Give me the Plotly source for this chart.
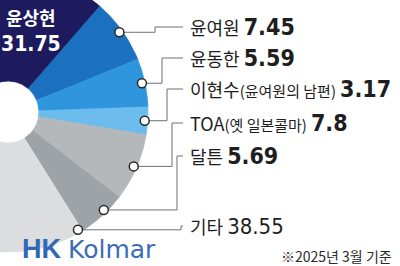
import numpy as np
import plotly.graph_objects as go

# ---------------- data ----------------
holders = ["윤상현", "윤여원", "윤동한", "이현수", "TOA", "달튼", "기타"]
shares = [31.75, 7.45, 5.59, 3.17, 7.8, 5.69, 38.55]
label_names = ["윤여원", "윤동한", "이현수", "TOA", "달튼", "기타"]
label_notes = ["", "", "(윤여원의 남편)", "(옛 일본콜마)", "", ""]
footnote = "※2025년 3월 기준"
brand = ["HK", "Kolmar"]

# ---------------- style / layout ----------------
colors = ["#1d1a5e", "#1c70c0", "#2f95dc", "#6cbcee", "#b5b8bb", "#9ea3a8", "#dcdddf"]
CX, CY, R, R0 = 8, 112, 140, 31          # pie centre / radii in pixels
FIRST_END = 49                            # angle where first slice ends (deg, ccw from east)
label_y = [27, 58, 89, 123, 156, 226]
elbow_x = [155, 162, 167, 172, 177, 181]
marker_frac = [0.5, 0.5, 0.5, 0.5, 0.4, 0.01]
LABEL_X = 188
KFONT = "Noto Sans CJK KR"
NFONT = "Liberation Sans Narrow, DejaVu Sans Condensed, Liberation Sans"

fig = go.Figure()

deg = [s * 3.6 for s in shares]
start0 = FIRST_END + deg[0]
starts, ends = [], []
a = start0
for d in deg:
    starts.append(a)
    ends.append(a - d)
    a -= d

for i in range(len(holders)):
    th = np.radians(np.linspace(starts[i], ends[i], 160))
    xo = CX + R * np.cos(th)
    yo = CY - R * np.sin(th)
    xi = CX + R0 * np.cos(th[::-1])
    yi = CY - R0 * np.sin(th[::-1])
    xs = np.concatenate([xo, xi, xo[:1]])
    ys = np.concatenate([yo, yi, yo[:1]])
    fig.add_trace(go.Scatter(x=xs, y=ys, mode="lines", fill="toself",
                             fillcolor=colors[i],
                             line=dict(color=colors[i], width=0.8),
                             hoverinfo="skip", showlegend=False))

# leader lines and markers
mx, my = [], []
for j in range(len(label_names)):
    i = j + 1
    ang = np.radians(starts[i] + marker_frac[j] * (ends[i] - starts[i]))
    px = CX + (R - 3) * np.cos(ang)
    py = CY - (R - 3) * np.sin(ang)
    mx.append(px)
    my.append(py)
    fig.add_trace(go.Scatter(x=[LABEL_X - 5, elbow_x[j], elbow_x[j], px],
                             y=[label_y[j], label_y[j], py, py],
                             mode="lines", line=dict(color="#6f6f6f", width=1),
                             hoverinfo="skip", showlegend=False))
fig.add_trace(go.Scatter(x=mx, y=my, mode="markers",
                         marker=dict(size=9, color="white",
                                     line=dict(color="#2a2a2a", width=1.5)),
                         hoverinfo="skip", showlegend=False))

annotations = []
# label of the largest slice (inside)
annotations.append(dict(x=31, y=17, text="<b>" + holders[0] + "</b>",
                        font=dict(family=KFONT, size=18, color="white")))
annotations.append(dict(x=31, y=44, text="<b>" + f"{shares[0]:.2f}" + "</b>",
                        font=dict(family=NFONT, size=21, color="white")))

for j, name in enumerate(label_names):
    val = shares[j + 1]
    vtxt = f"{val:g}"
    note = label_notes[j]
    txt = name
    if note:
        txt += f"<span style=\"font-size:15px\">{note}</span>"
    if j < 5:
        txt += f" <b><span style=\"font-family:{NFONT};font-size:23px\">{vtxt}</span></b>"
    else:
        txt += f" <span style=\"font-family:{NFONT};font-size:22px\">{vtxt}</span>"
    annotations.append(dict(x=LABEL_X, y=label_y[j], text=txt, xanchor="left",
                            font=dict(family=KFONT, size=18, color="#1e1e1e")))

annotations.append(dict(x=394, y=256, text=footnote, xanchor="right",
                        font=dict(family=KFONT, size=14, color="#2a2a2a")))
annotations.append(dict(x=20, y=266, text="<b>" + brand[0] + "</b>", xanchor="left",
                        yanchor="bottom",
                        font=dict(family="Liberation Sans", size=27, color="#2f68b3")))
annotations.append(dict(x=66, y=266, text=brand[1], xanchor="left",
                        yanchor="bottom",
                        font=dict(family="DejaVu Sans", size=25, color="#3a6db6")))

for an in annotations:
    an.update(xref="x", yref="y", showarrow=False)
    an.setdefault("xanchor", "center")
    an.setdefault("yanchor", "middle")

fig.update_layout(
    width=400, height=266,
    margin=dict(l=0, r=0, t=0, b=0),
    paper_bgcolor="white", plot_bgcolor="white",
    xaxis=dict(range=[0, 400], visible=False, fixedrange=True),
    yaxis=dict(range=[266, 0], visible=False, fixedrange=True),
    annotations=annotations,
    showlegend=False,
)

fig.write_html("out.html")
